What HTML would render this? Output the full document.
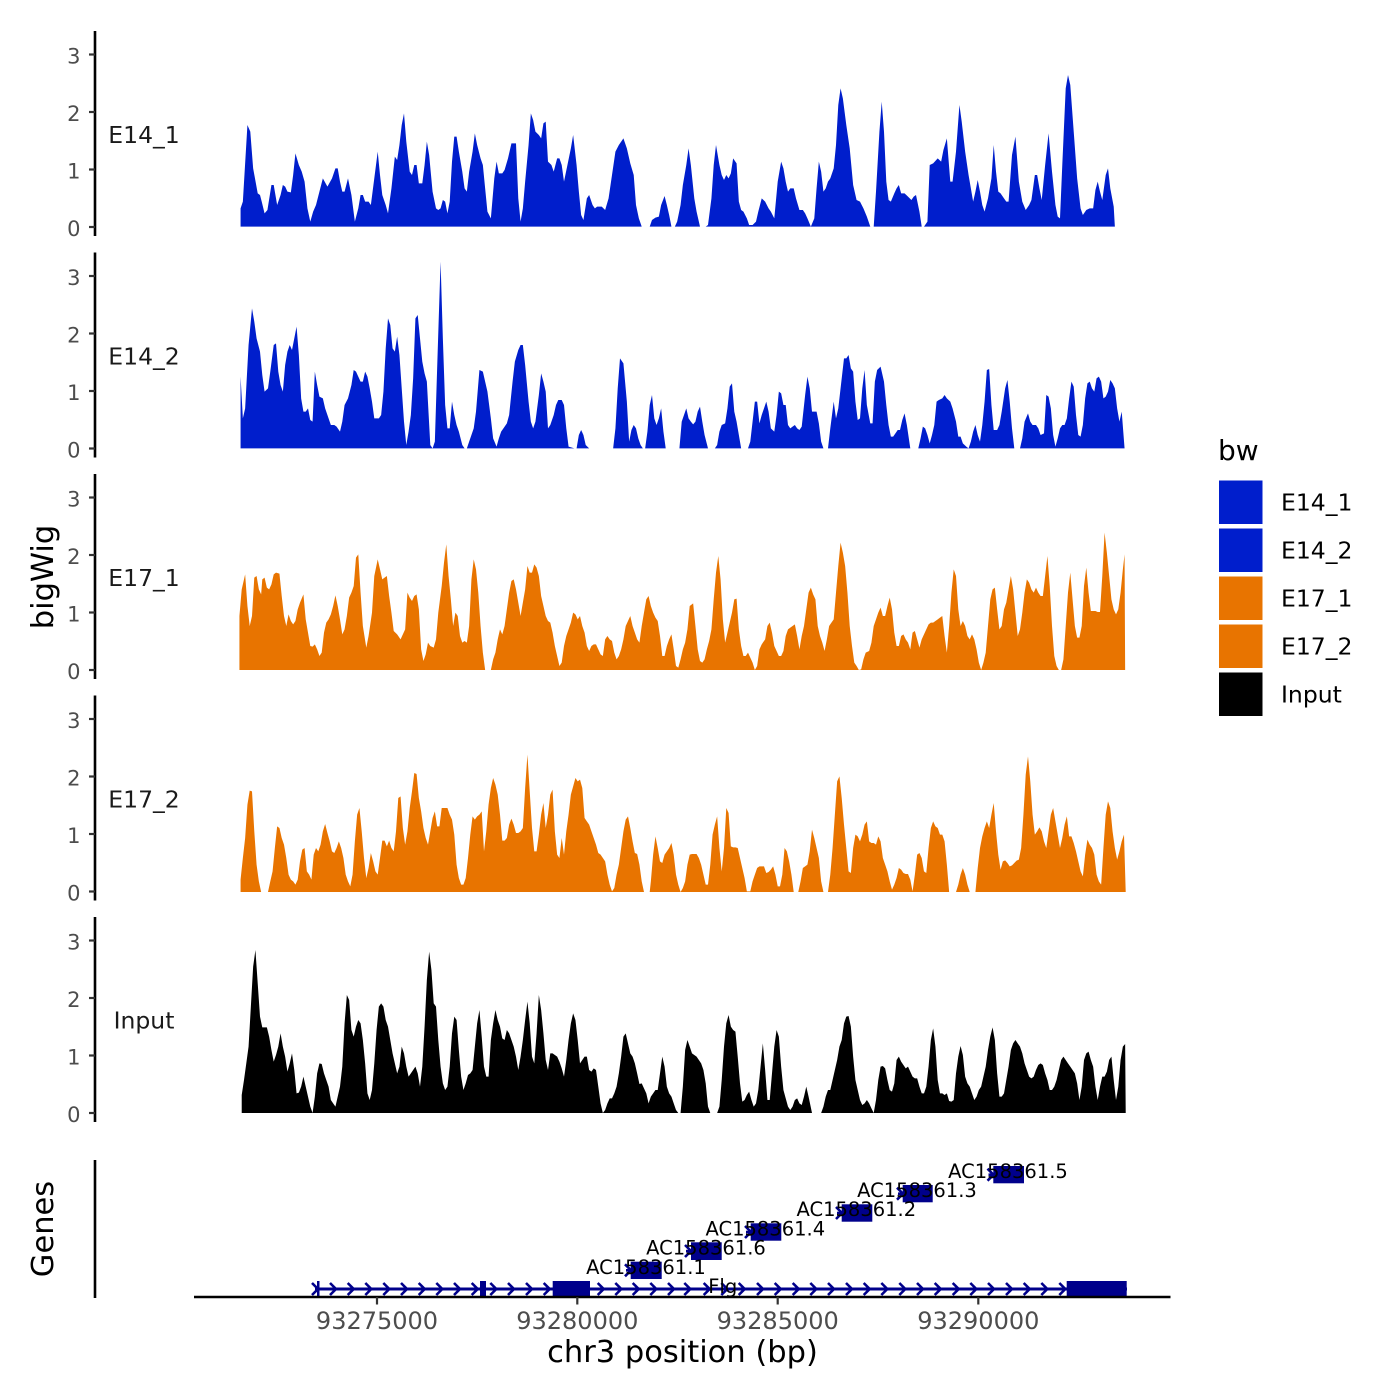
<!DOCTYPE html>
<html><head><meta charset="utf-8"><style>
html,body{margin:0;padding:0;background:#fff;}
svg{display:block;font-family:"DejaVu Sans","Liberation Sans",sans-serif;}
</style></head><body>
<svg width="1400" height="1400" viewBox="0 0 1400 1400" xmlns="http://www.w3.org/2000/svg">
<rect width="1400" height="1400" fill="#fff"/>

<!-- Track 1 E14_1 -->
<g transform="translate(236,65) scale(0.5714286,0.3333333)">
<polygon fill="#001ECC" points="8,485 8,430 12,410 20,180 25,200 30,310 38,385 42,390 45,410 50,445 55,435 62,360 66,360 72,420 78,390 82,360 86,365 90,380 96,382 100,330 104,265 110,300 115,320 120,350 125,430 130,470 135,440 140,420 146,380 152,340 160,365 168,340 174,310 178,310 182,350 186,380 190,380 196,340 202,390 208,470 214,430 218,390 222,390 226,410 232,410 236,420 242,340 248,260 252,330 256,390 262,420 266,445 272,370 278,275 282,285 286,240 290,180 294,145 298,230 304,320 308,330 312,300 316,300 320,355 326,355 330,300 334,230 338,270 344,380 350,430 354,435 358,430 362,405 366,410 370,445 374,410 378,290 382,215 386,215 390,260 396,320 400,370 404,380 408,320 414,260 418,205 422,240 428,280 432,300 436,370 440,440 446,460 452,340 456,290 460,325 466,325 470,315 476,280 482,235 490,235 494,400 498,470 502,430 506,350 512,240 516,145 520,165 524,200 530,210 534,220 538,175 542,170 546,290 552,300 556,320 562,280 566,280 570,300 574,350 580,300 586,250 590,210 596,300 600,380 604,450 608,465 614,400 618,390 624,420 628,430 632,425 640,425 646,435 652,400 658,330 664,260 670,240 678,220 684,250 690,295 696,330 700,420 705,460 710,485 724,485 728,465 734,458 740,455 744,420 750,393 754,420 758,450 762,485 768,485 772,470 778,420 782,360 788,300 792,250 796,300 802,400 806,440 812,485 822,485 826,480 832,400 836,300 840,240 846,300 850,330 854,345 858,330 862,340 866,325 870,280 876,295 880,410 884,435 888,440 894,460 898,480 904,480 910,470 914,440 920,400 926,410 932,430 936,440 942,460 948,350 954,290 958,310 962,350 966,380 970,370 976,370 980,400 986,435 992,435 996,445 1000,460 1006,485 1012,460 1016,370 1020,290 1024,320 1028,380 1032,370 1036,350 1040,340 1046,310 1050,240 1054,120 1058,70 1062,100 1068,180 1074,250 1080,360 1086,405 1092,410 1098,430 1104,455 1110,485 1116,485 1120,380 1126,200 1130,110 1134,200 1138,350 1142,405 1146,410 1152,385 1156,370 1160,360 1164,385 1170,385 1176,395 1182,405 1186,395 1190,390 1196,440 1200,485 1204,485 1210,470 1214,300 1220,295 1228,280 1234,290 1238,255 1244,220 1250,350 1254,350 1260,260 1266,120 1270,170 1276,260 1282,330 1290,410 1294,380 1298,345 1302,380 1306,420 1310,440 1316,400 1322,340 1326,240 1330,320 1334,380 1338,385 1344,400 1348,410 1352,410 1358,270 1364,215 1370,350 1376,410 1382,435 1388,420 1392,405 1398,330 1402,330 1406,370 1410,405 1416,300 1422,205 1428,320 1434,420 1438,455 1442,460 1446,300 1452,70 1456,30 1460,60 1466,200 1472,340 1478,430 1482,450 1488,435 1494,430 1500,430 1504,375 1508,350 1512,380 1516,405 1522,330 1526,310 1530,370 1536,425 1538,485"/>
</g>

<!-- Track 2 E14_2 -->
<g transform="translate(236,255) scale(0.5714286,0.3333333)">
<polygon fill="#001ECC" points="8,580 8,365 12,490 16,460 22,270 28,160 32,200 36,250 42,290 46,360 50,410 56,400 60,350 66,270 70,265 74,350 78,390 82,410 86,330 90,290 94,270 98,285 102,250 106,215 110,300 114,430 118,470 122,470 126,460 130,495 134,500 138,350 142,390 146,425 152,430 156,460 162,490 166,510 172,510 176,515 182,530 186,500 190,450 196,430 202,390 206,345 210,350 214,365 218,380 222,380 226,350 230,365 234,400 238,440 242,490 250,490 254,480 258,410 262,280 266,190 270,210 274,280 278,290 282,245 286,300 290,400 294,500 298,570 302,530 306,480 310,370 314,190 318,180 322,250 326,320 330,355 334,380 340,570 344,580 348,560 352,340 358,20 362,250 366,450 370,520 374,520 378,440 382,480 386,510 390,530 396,570 400,580 404,580 408,560 412,540 416,520 420,470 426,345 432,350 436,380 440,410 446,490 450,550 456,575 460,550 464,530 468,520 474,505 478,480 484,380 488,320 494,285 498,270 502,270 506,330 512,440 516,500 520,520 524,500 530,420 534,355 538,380 542,410 546,520 550,510 556,480 560,450 564,435 570,435 574,450 578,520 582,575 588,578 592,580 596,580 600,540 604,525 608,540 612,570 618,580 660,580 664,520 668,400 672,310 678,325 684,440 688,560 692,525 696,510 700,520 704,550 708,570 712,580 716,580 720,530 724,450 728,420 732,490 736,510 740,490 744,460 748,530 752,580 776,580 780,500 784,480 788,460 792,490 796,500 800,508 804,500 808,470 812,455 816,500 820,540 826,580 838,580 842,570 846,530 850,510 856,505 860,460 864,395 868,385 872,470 876,500 880,540 884,580 896,580 900,560 904,500 908,440 912,440 916,505 920,480 924,460 928,440 932,470 936,520 942,530 946,480 950,410 954,415 958,450 962,450 966,510 970,520 974,515 978,510 982,520 986,525 990,515 996,420 1000,365 1004,400 1008,470 1016,470 1020,505 1024,560 1028,580 1036,580 1040,520 1046,440 1050,490 1054,460 1060,370 1064,310 1068,310 1072,300 1076,340 1080,350 1084,440 1088,495 1092,490 1096,400 1100,345 1104,450 1110,505 1114,505 1118,380 1122,345 1128,335 1134,380 1138,450 1142,510 1146,545 1150,545 1154,535 1158,525 1162,525 1166,495 1170,475 1174,510 1180,580 1194,580 1198,550 1202,515 1206,520 1210,540 1214,565 1218,540 1222,510 1226,440 1230,435 1236,430 1240,420 1244,430 1250,440 1254,460 1260,500 1264,545 1268,545 1272,565 1278,575 1282,580 1286,560 1290,530 1294,510 1298,540 1302,560 1306,510 1310,440 1314,345 1318,342 1322,450 1326,525 1332,525 1336,510 1340,470 1346,400 1350,375 1354,440 1358,520 1362,580 1372,580 1376,550 1380,500 1386,475 1390,500 1394,510 1400,510 1404,520 1408,540 1414,535 1418,420 1422,425 1426,460 1430,540 1434,575 1438,550 1442,520 1446,510 1450,510 1454,490 1458,430 1462,380 1466,395 1470,480 1474,540 1478,545 1482,510 1486,430 1490,385 1494,380 1498,400 1502,410 1506,370 1510,365 1514,380 1518,430 1522,425 1526,410 1530,375 1534,385 1538,400 1542,460 1546,500 1550,470 1555,580"/>
</g>

<!-- Track 3 E17_1 -->
<g transform="translate(236,526) scale(0.5714286,0.3333333)">
<polygon fill="#E87400" points="6,432 6,270 10,190 16,145 20,240 24,300 28,270 32,155 36,150 40,190 44,205 46,160 50,155 54,185 58,190 62,175 66,145 70,140 76,143 80,210 84,270 88,300 92,265 96,285 100,295 104,285 108,250 112,230 118,205 122,280 126,320 130,360 134,362 138,355 142,370 146,390 150,380 154,320 158,290 162,280 166,265 170,240 174,208 178,240 182,280 186,325 190,310 194,270 198,215 202,200 206,180 210,95 214,85 218,200 222,300 228,365 232,330 238,260 242,150 248,100 252,130 256,160 260,155 264,150 268,210 272,260 276,315 282,325 288,340 292,325 296,310 300,200 304,215 308,225 312,210 316,205 320,250 324,370 328,405 332,385 336,350 340,360 346,365 350,340 354,260 360,180 364,110 368,55 372,150 376,220 380,300 384,260 388,270 392,330 396,350 400,345 404,350 408,300 412,160 416,100 420,130 424,200 428,300 432,380 436,432 446,432 450,400 454,380 458,340 462,310 466,325 470,300 474,250 478,200 482,165 486,160 490,190 494,230 498,270 502,230 506,190 510,120 514,140 518,140 522,115 526,125 530,150 534,210 538,240 542,270 546,285 550,290 554,320 558,360 562,390 566,420 570,410 574,360 578,330 582,310 586,290 590,260 594,265 598,280 602,270 606,300 610,320 614,360 618,375 622,360 626,355 630,355 634,370 638,385 642,390 646,340 650,330 654,340 658,345 662,380 666,400 670,390 674,370 678,340 682,300 686,285 690,270 694,300 698,320 702,340 706,350 710,300 714,260 718,220 722,210 726,240 730,260 734,275 738,285 742,330 746,390 750,390 754,360 758,340 762,325 766,370 770,420 774,425 778,400 782,370 786,350 790,310 794,240 800,232 804,300 808,370 812,405 816,410 820,400 824,370 828,345 832,310 836,220 840,140 844,90 848,160 852,280 856,350 860,320 864,290 868,260 872,220 876,218 880,310 884,360 888,390 892,390 896,380 900,395 904,410 908,432 912,420 916,370 920,355 926,340 930,300 934,290 938,320 942,360 946,375 950,390 954,390 958,375 962,330 966,310 970,305 974,300 978,295 982,330 986,370 990,330 994,300 998,250 1002,200 1006,185 1010,205 1014,220 1018,300 1022,330 1026,350 1030,375 1034,340 1038,300 1042,290 1046,280 1050,200 1054,120 1058,50 1062,80 1066,120 1070,200 1074,300 1078,360 1082,410 1086,420 1090,432 1094,430 1098,400 1102,380 1108,375 1112,350 1116,300 1120,280 1124,260 1128,245 1132,270 1136,270 1140,240 1144,215 1148,250 1152,320 1156,360 1160,360 1164,330 1168,325 1172,340 1176,350 1180,370 1184,320 1188,315 1192,340 1196,365 1200,340 1204,325 1208,310 1212,295 1216,290 1220,290 1224,285 1228,280 1232,275 1236,270 1240,330 1244,380 1248,300 1252,200 1256,130 1260,150 1264,250 1268,300 1272,285 1276,300 1280,330 1284,340 1288,325 1292,340 1296,370 1300,410 1304,432 1308,410 1312,380 1316,300 1320,220 1324,190 1328,185 1332,250 1336,310 1340,300 1344,250 1348,230 1352,190 1356,150 1360,190 1364,260 1368,330 1372,310 1376,260 1380,200 1384,160 1388,170 1392,190 1396,200 1400,185 1404,200 1408,210 1412,210 1416,150 1420,90 1424,180 1428,300 1432,390 1436,420 1440,432 1444,432 1448,400 1452,300 1456,200 1460,140 1464,220 1468,300 1472,335 1476,335 1480,300 1484,180 1488,125 1492,200 1496,255 1500,255 1504,255 1508,258 1512,258 1516,150 1520,20 1524,80 1528,150 1532,220 1536,250 1540,265 1544,250 1548,200 1552,130 1555,85 1556,432"/>
</g>

<!-- Track 4 E17_2 -->
<g transform="translate(236,748) scale(0.5714286,0.3333333)">
<polygon fill="#E87400" points="8,432 8,395 12,330 16,270 20,170 24,128 28,130 32,250 36,350 40,400 44,432 56,432 60,400 64,370 68,300 72,235 76,240 80,270 84,290 88,330 92,380 96,395 100,400 104,410 108,395 112,340 116,305 120,300 124,370 128,380 132,395 136,320 140,300 144,310 148,290 152,250 156,228 160,255 164,280 168,310 172,315 176,300 180,280 184,300 188,330 192,380 196,400 200,415 204,380 208,280 212,200 216,180 220,250 224,330 228,390 232,360 236,315 240,340 244,370 248,380 252,330 256,278 260,278 264,295 268,278 272,300 276,310 280,250 284,150 288,145 292,240 296,290 300,250 304,180 308,130 312,75 316,78 320,150 324,190 328,240 332,270 336,290 340,250 344,210 348,190 352,235 356,235 360,180 364,180 370,180 374,200 378,215 382,260 386,350 390,390 394,410 398,410 402,390 406,330 410,260 414,205 418,215 422,205 426,200 430,190 434,310 438,250 442,170 446,120 450,90 454,110 458,140 462,200 466,278 470,278 474,270 478,230 482,212 486,230 490,255 494,255 498,250 502,240 506,120 510,20 514,130 518,240 522,310 526,310 530,260 534,200 538,165 542,240 546,200 550,140 554,125 558,250 562,320 566,330 570,270 574,320 578,250 582,200 586,140 590,115 594,90 598,100 602,95 606,120 610,210 614,220 618,230 622,250 626,270 630,290 634,315 638,320 642,330 646,340 650,380 654,410 658,430 662,420 666,380 670,350 674,300 678,250 682,215 686,205 690,240 694,280 698,315 702,318 706,350 710,400 714,432 724,432 726,400 730,320 734,265 738,300 742,340 746,345 750,320 754,310 758,300 762,285 766,320 770,380 774,410 778,432 782,420 786,400 790,350 794,320 798,318 806,318 810,330 814,350 818,380 822,410 826,410 830,350 834,260 838,230 842,205 846,300 850,370 854,300 858,180 862,195 866,295 870,298 874,298 878,300 882,330 886,360 890,390 894,430 900,430 904,400 908,380 912,360 916,355 920,355 924,355 928,375 932,372 936,365 940,355 944,380 948,415 952,415 956,380 960,300 964,310 968,340 972,380 976,432 984,432 988,400 992,360 996,355 1000,350 1004,310 1008,245 1012,270 1016,300 1020,330 1024,400 1028,432 1036,432 1040,380 1044,300 1048,200 1052,100 1056,85 1060,150 1064,230 1068,300 1072,370 1076,375 1080,300 1084,260 1088,265 1092,280 1096,260 1100,230 1104,220 1108,280 1112,285 1116,285 1120,290 1124,265 1128,280 1132,330 1136,350 1140,370 1144,400 1148,425 1152,410 1156,390 1160,360 1164,365 1168,375 1172,378 1176,378 1180,395 1184,430 1188,380 1192,320 1196,315 1200,330 1204,370 1208,375 1212,300 1216,240 1220,220 1224,235 1228,240 1232,260 1236,260 1240,280 1244,350 1248,432 1260,432 1264,410 1268,380 1272,360 1276,380 1280,410 1284,432 1294,432 1298,360 1302,300 1306,265 1310,240 1314,220 1318,240 1322,200 1326,165 1330,250 1334,320 1338,365 1342,340 1346,337 1350,345 1354,355 1358,352 1362,345 1366,338 1370,335 1374,300 1378,200 1382,80 1386,25 1390,100 1394,200 1398,260 1402,250 1406,238 1410,250 1414,280 1418,300 1422,250 1426,200 1430,180 1434,220 1438,260 1442,300 1446,270 1450,230 1454,205 1458,265 1462,265 1466,285 1470,310 1474,340 1478,370 1482,385 1486,320 1490,275 1494,290 1498,300 1502,320 1506,380 1510,400 1514,410 1518,300 1522,200 1526,160 1530,180 1534,250 1538,300 1542,335 1546,310 1550,280 1554,260 1557,432"/>
</g>

<!-- Track 5 Input -->
<g transform="translate(236,940) scale(0.5714286,0.3333333)">
<polygon fill="#000" points="10,519 10,465 14,420 18,370 22,320 26,200 30,80 34,30 38,130 42,230 46,262 50,262 54,262 58,290 62,330 66,365 70,345 74,320 78,280 82,320 86,350 90,395 94,370 98,340 102,390 106,460 110,458 114,440 118,410 122,440 126,470 130,500 134,519 138,470 142,400 146,370 150,372 154,400 158,420 162,440 166,480 170,490 174,500 178,470 182,440 186,380 190,250 194,165 198,180 202,270 206,290 210,260 214,240 218,250 222,300 226,370 230,460 234,480 238,450 242,370 246,270 250,200 254,190 258,200 262,240 266,260 270,300 274,340 278,370 282,400 286,380 290,320 294,340 298,380 302,410 306,400 310,390 314,380 318,400 322,440 326,380 330,260 334,120 338,35 342,90 346,190 350,200 354,300 358,380 362,430 366,450 370,440 374,380 378,280 382,230 386,240 390,330 394,410 398,450 402,430 406,405 410,400 414,390 418,320 422,250 426,210 430,290 434,380 438,410 442,410 446,300 450,250 454,210 458,240 462,260 466,295 470,300 474,270 478,280 482,300 486,320 490,350 494,390 498,350 502,300 506,240 510,185 514,250 518,350 522,370 526,280 530,165 534,210 538,280 542,360 546,390 550,340 554,340 558,345 562,350 566,365 570,385 574,410 578,360 582,300 586,250 590,220 594,240 598,300 602,370 606,360 610,350 614,350 618,390 622,395 626,385 630,390 634,440 638,490 642,519 646,510 650,490 654,475 658,475 662,460 666,440 670,400 674,350 678,290 682,280 686,310 690,340 694,350 698,370 702,400 706,432 710,430 714,445 718,460 722,490 726,470 730,460 734,450 738,450 742,400 746,350 750,380 754,440 758,460 762,470 766,490 770,510 774,519 778,519 782,440 786,330 790,300 794,320 798,340 802,345 806,350 810,360 814,370 818,390 822,430 826,500 830,519 842,519 846,500 850,420 854,320 858,250 862,225 866,260 870,270 874,275 878,350 882,430 886,485 890,480 894,465 898,455 902,480 906,500 910,490 914,450 918,380 922,310 926,390 930,480 934,480 938,400 942,320 946,270 950,290 954,380 958,450 962,475 966,500 970,510 974,500 978,480 982,475 986,490 990,495 994,470 998,440 1002,470 1008,519 1024,519 1028,500 1032,470 1036,450 1040,450 1044,420 1048,390 1052,360 1056,320 1060,300 1064,250 1068,230 1072,228 1076,260 1080,350 1084,420 1088,450 1092,480 1096,495 1100,490 1104,480 1108,490 1112,505 1116,519 1120,480 1124,420 1128,380 1132,378 1136,385 1140,420 1144,450 1148,455 1152,430 1156,360 1160,350 1164,365 1168,375 1172,385 1176,380 1180,395 1184,410 1188,415 1192,415 1196,440 1200,460 1204,460 1208,440 1212,380 1216,300 1220,265 1224,320 1228,420 1232,460 1236,460 1240,465 1244,460 1248,483 1252,485 1256,480 1260,400 1264,350 1268,318 1272,345 1276,410 1280,430 1284,440 1288,460 1292,480 1296,470 1300,450 1304,440 1308,410 1312,380 1316,330 1320,290 1324,262 1328,300 1332,400 1336,470 1340,470 1344,460 1348,420 1352,380 1356,330 1360,310 1364,300 1368,310 1372,320 1376,340 1380,370 1384,390 1388,410 1392,415 1396,410 1400,390 1404,375 1408,370 1412,375 1416,400 1420,420 1424,450 1428,450 1432,440 1436,420 1440,390 1444,360 1448,350 1452,360 1456,370 1460,380 1464,390 1468,400 1472,430 1476,480 1480,440 1484,360 1488,340 1492,335 1496,360 1500,380 1504,440 1508,480 1512,440 1516,410 1520,410 1524,395 1528,360 1532,350 1536,420 1540,480 1544,440 1548,360 1552,320 1556,312 1557,519"/>
</g>

<!-- Y axes for tracks -->
<g stroke="#000" stroke-width="2.6" fill="none">
<line x1="95" y1="31" x2="95" y2="236"/>
<line x1="95" y1="252.5" x2="95" y2="457.5"/>
<line x1="95" y1="474" x2="95" y2="679"/>
<line x1="95" y1="695.5" x2="95" y2="900.5"/>
<line x1="95" y1="917" x2="95" y2="1122"/>
<line x1="95" y1="1160" x2="95" y2="1298"/>
</g>
<g stroke="#333" stroke-width="2.2">
<line x1="89" y1="227" x2="95" y2="227"/><line x1="89" y1="169.5" x2="95" y2="169.5"/><line x1="89" y1="112" x2="95" y2="112"/><line x1="89" y1="54.5" x2="95" y2="54.5"/>
<line x1="89" y1="448.5" x2="95" y2="448.5"/><line x1="89" y1="391" x2="95" y2="391"/><line x1="89" y1="333.5" x2="95" y2="333.5"/><line x1="89" y1="276" x2="95" y2="276"/>
<line x1="89" y1="670" x2="95" y2="670"/><line x1="89" y1="612.5" x2="95" y2="612.5"/><line x1="89" y1="555" x2="95" y2="555"/><line x1="89" y1="497.5" x2="95" y2="497.5"/>
<line x1="89" y1="891.5" x2="95" y2="891.5"/><line x1="89" y1="834" x2="95" y2="834"/><line x1="89" y1="776.5" x2="95" y2="776.5"/><line x1="89" y1="719" x2="95" y2="719"/>
<line x1="89" y1="1113" x2="95" y2="1113"/><line x1="89" y1="1055.5" x2="95" y2="1055.5"/><line x1="89" y1="998" x2="95" y2="998"/><line x1="89" y1="940.5" x2="95" y2="940.5"/>
</g>
<g font-size="21" fill="#4D4D4D" text-anchor="end">
<text x="80.5" y="236">0</text><text x="80.5" y="178.5">1</text><text x="80.5" y="121">2</text><text x="80.5" y="63.5">3</text>
<text x="80.5" y="457.5">0</text><text x="80.5" y="400">1</text><text x="80.5" y="342.5">2</text><text x="80.5" y="285">3</text>
<text x="80.5" y="679">0</text><text x="80.5" y="621.5">1</text><text x="80.5" y="564">2</text><text x="80.5" y="506.5">3</text>
<text x="80.5" y="900.5">0</text><text x="80.5" y="843">1</text><text x="80.5" y="785.5">2</text><text x="80.5" y="728">3</text>
<text x="80.5" y="1122">0</text><text x="80.5" y="1064.5">1</text><text x="80.5" y="1007">2</text><text x="80.5" y="949.5">3</text>
</g>

<!-- Track labels -->
<g font-size="23.5" fill="#1A1A1A" text-anchor="middle">
<text x="144" y="143">E14_1</text>
<text x="144" y="364.5">E14_2</text>
<text x="144" y="586">E17_1</text>
<text x="144" y="807.5">E17_2</text>
<text x="144" y="1028.5">Input</text>
</g>

<!-- Axis titles -->
<text transform="translate(53,577) rotate(-90)" font-size="30.5" text-anchor="middle" fill="#000">bigWig</text>
<text transform="translate(53,1229) rotate(-90)" font-size="30.5" text-anchor="middle" fill="#000">Genes</text>

<!-- Gene track -->
<g fill="#00008B" stroke="none">
<rect x="315" y="1287.5" width="812" height="3"/>
<rect x="317" y="1281" width="2.5" height="16"/>
<rect x="480" y="1281" width="6" height="16"/>
<rect x="552.7" y="1281" width="37.3" height="16"/>
<rect x="1066.7" y="1281" width="60" height="16"/>
<rect x="626" y="1269" width="6" height="2.6"/><rect x="630.7" y="1261.7" width="31" height="17.3"/>
<rect x="686" y="1249.8" width="6" height="2.6"/><rect x="691" y="1242.3" width="30.7" height="17.7"/>
<rect x="746" y="1230.7" width="6" height="2.6"/><rect x="750.7" y="1223.3" width="30.6" height="17.4"/>
<rect x="837" y="1211.7" width="6" height="2.6"/><rect x="841.7" y="1204.3" width="30.6" height="17.4"/>
<rect x="898" y="1192.4" width="6" height="2.6"/><rect x="902.7" y="1185" width="30" height="17.3"/>
<rect x="988.5" y="1173.4" width="6" height="2.6"/><rect x="993.3" y="1166" width="30.7" height="17.3"/>
</g>
<g stroke="#00008B" stroke-width="2.6" fill="none" stroke-linejoin="miter">
<path d="M312 1283 L318 1289 L312 1295 M330 1283 L336 1289 L330 1295 M347.7 1283 L353.7 1289 L347.7 1295 M365.3 1283 L371.3 1289 L365.3 1295 M383.3 1283 L389.3 1289 L383.3 1295 M401 1283 L407 1289 L401 1295 M418.7 1283 L424.7 1289 L418.7 1295 M436.3 1283 L442.3 1289 L436.3 1295 M454 1283 L460 1289 L454 1295 M471.7 1283 L477.7 1289 L471.7 1295 M490.3 1283 L496.3 1289 L490.3 1295 M508 1283 L514 1289 L508 1295 M526 1283 L532 1289 L526 1295 M543.7 1283 L549.7 1289 L543.7 1295 M597.7 1283 L603.7 1289 L597.7 1295 M615.3 1283 L621.3 1289 L615.3 1295 M632.7 1283 L638.7 1289 L632.7 1295 M650.3 1283 L656.3 1289 L650.3 1295 M668 1283 L674 1289 L668 1295 M684.3 1283 L690.3 1289 L684.3 1295 M703.7 1283 L709.7 1289 L703.7 1295 M721.3 1283 L727.3 1289 L721.3 1295 M738.7 1283 L744.7 1289 L738.7 1295 M757 1283 L763 1289 L757 1295 M774.7 1283 L780.7 1289 L774.7 1295 M792.7 1283 L798.7 1289 L792.7 1295 M810.3 1283 L816.3 1289 L810.3 1295 M828 1283 L834 1289 L828 1295 M846 1283 L852 1289 L846 1295 M863.7 1283 L869.7 1289 L863.7 1295 M881.3 1283 L887.3 1289 L881.3 1295 M899.3 1283 L905.3 1289 L899.3 1295 M917 1283 L923 1289 L917 1295 M934.7 1283 L940.7 1289 L934.7 1295 M952.7 1283 L958.7 1289 L952.7 1295 M970.3 1283 L976.3 1289 L970.3 1295 M988 1283 L994 1289 L988 1295 M1006 1283 L1012 1289 L1006 1295 M1023.7 1283 L1029.7 1289 L1023.7 1295 M1041.3 1283 L1047.3 1289 L1041.3 1295 M1059.3 1283 L1065.3 1289 L1059.3 1295"/>
<path d="M625 1264.3 L631 1270.3 L625 1276.3 M685 1245 L691 1251 L685 1257 M745 1226 L751 1232 L745 1238 M836 1207 L842 1213 L836 1219 M897 1187.7 L903 1193.7 L897 1199.7 M987.5 1168.7 L993.5 1174.7 L987.5 1180.7"/>
</g>
<g font-size="19.5" fill="#000" text-anchor="middle">
<text x="1008" y="1178">AC158361.5</text>
<text x="917" y="1197">AC158361.3</text>
<text x="856.3" y="1216">AC158361.2</text>
<text x="765.3" y="1235.7">AC158361.4</text>
<text x="706" y="1254.7">AC158361.6</text>
<text x="646" y="1274">AC158361.1</text>
<text x="722.7" y="1293">Flg</text>
</g>

<!-- X axis -->
<line x1="194" y1="1297" x2="1170.5" y2="1297" stroke="#000" stroke-width="2.6"/>
<g stroke="#333" stroke-width="2.2">
<line x1="377" y1="1297" x2="377" y2="1304.5"/>
<line x1="577.3" y1="1297" x2="577.3" y2="1304.5"/>
<line x1="777.7" y1="1297" x2="777.7" y2="1304.5"/>
<line x1="978.3" y1="1297" x2="978.3" y2="1304.5"/>
</g>
<g font-size="24" fill="#4D4D4D" text-anchor="middle">
<text x="377" y="1329">93275000</text>
<text x="577.3" y="1329">93280000</text>
<text x="777.7" y="1329">93285000</text>
<text x="978.3" y="1329">93290000</text>
</g>
<text x="682.5" y="1362" font-size="30.5" text-anchor="middle" fill="#000">chr3 position (bp)</text>

<!-- Legend -->
<text x="1218" y="460" font-size="28" fill="#000">bw</text>
<rect x="1219" y="480.5" width="43.5" height="43.5" fill="#001ECC"/>
<rect x="1219" y="528.5" width="43.5" height="43.5" fill="#001ECC"/>
<rect x="1219" y="576.5" width="43.5" height="43.5" fill="#E87400"/>
<rect x="1219" y="624.5" width="43.5" height="43.5" fill="#E87400"/>
<rect x="1219" y="672.5" width="43.5" height="43.5" fill="#000"/>
<g font-size="23.5" fill="#000">
<text x="1281" y="510.5">E14_1</text>
<text x="1281" y="558.5">E14_2</text>
<text x="1281" y="606.5">E17_1</text>
<text x="1281" y="654.5">E17_2</text>
<text x="1281" y="702.5">Input</text>
</g>
</svg>
</body></html>
